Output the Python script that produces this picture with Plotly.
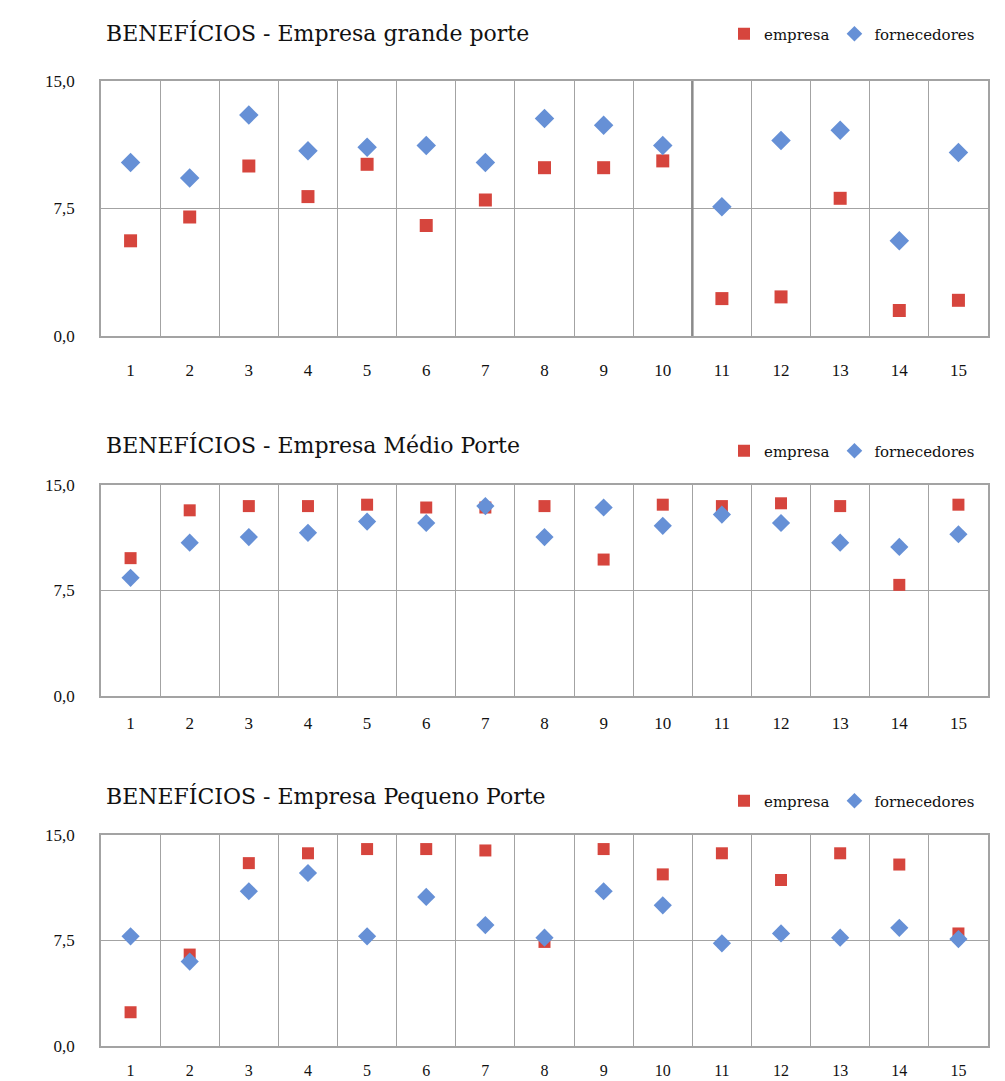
import plotly.graph_objects as go

categories = list(range(1, 15 + 1))
tick_labels = [str(c) for c in categories]

grande_empresa = [5.6, 7.0, 10.0, 8.2, 10.1, 6.5, 8.0, 9.9, 9.9, 10.3, 2.2, 2.3, 8.1, 1.5, 2.1]
grande_fornecedores = [10.2, 9.3, 13.0, 10.9, 11.1, 11.2, 10.2, 12.8, 12.4, 11.2, 7.6, 11.5, 12.1, 5.6, 10.8]

medio_empresa = [9.8, 13.2, 13.5, 13.5, 13.6, 13.4, 13.4, 13.5, 9.7, 13.6, 13.5, 13.7, 13.5, 7.9, 13.6]
medio_fornecedores = [8.4, 10.9, 11.3, 11.6, 12.4, 12.3, 13.5, 11.3, 13.4, 12.1, 12.9, 12.3, 10.9, 10.6, 11.5]

pequeno_empresa = [2.4, 6.5, 13.0, 13.7, 14.0, 14.0, 13.9, 7.4, 14.0, 12.2, 13.7, 11.8, 13.7, 12.9, 8.0]
pequeno_fornecedores = [7.8, 6.0, 11.0, 12.3, 7.8, 10.6, 8.6, 7.7, 11.0, 10.0, 7.3, 8.0, 7.7, 8.4, 7.6]

titles = ["BENEFÍCIOS - Empresa grande porte",
          "BENEFÍCIOS - Empresa Médio Porte",
          "BENEFÍCIOS - Empresa Pequeno Porte"]
y_ticks = [0, 7.5, 15]
y_tick_text = ["0,0", "7,5", "15,0"]

RED = "#d6453d"
BLUE = "#6690d6"
GRID = "#a3a3a3"
FONT = "Liberation Serif"
WIDE_FONT = "DejaVu Serif"
W, H = 1005, 1081

panels = [
    (grande_empresa, grande_fornecedores, (81, 336), 33, 34, 13, 18, 17),
    (medio_empresa, medio_fornecedores, (485, 696), 445, 451, 12, 11, 17),
    (pequeno_empresa, pequeno_fornecedores, (835, 1046), 796, 801, 12, 9, 16),
]

fig = go.Figure()
annotations = []
layout_axes = {}
for i, (emp, forn, (top, bot), title_y, leg_y, msize, xstand, xfs) in enumerate(panels):
    n = i + 1
    xa = "x" if n == 1 else f"x{n}"
    ya = "y" if n == 1 else f"y{n}"
    leg = "legend" if n == 1 else f"legend{n}"
    fig.add_trace(go.Scatter(x=categories, y=emp, mode="markers", name="empresa",
                             marker=dict(symbol="square", size=msize, color=RED),
                             xaxis=xa, yaxis=ya, legend=leg))
    fig.add_trace(go.Scatter(x=categories, y=forn, mode="markers", name="fornecedores",
                             marker=dict(symbol="diamond", size=msize + 2, color=BLUE),
                             xaxis=xa, yaxis=ya, legend=leg))
    xkey = "xaxis" if n == 1 else f"xaxis{n}"
    ykey = "yaxis" if n == 1 else f"yaxis{n}"
    layout_axes[xkey] = dict(
        domain=[101 / W, 988 / W], anchor=ya, range=[0.5, 15.5],
        tickvals=categories, ticktext=tick_labels, showgrid=False, zeroline=False,
        showline=True, linecolor=GRID, linewidth=1.5, mirror=True,
        ticks="", ticklabelstandoff=xstand, automargin=False,
        tickfont=dict(family=FONT, size=xfs, color="#111"),
        minor=dict(tickvals=[c + 0.5 for c in categories[:-1]], showgrid=True,
                   gridcolor=GRID, gridwidth=1.3, ticks=""),
        fixedrange=True,
    )
    layout_axes[ykey] = dict(
        domain=[(H - bot) / H, (H - top) / H], anchor=xa, range=[0, 15],
        tickvals=y_ticks, ticktext=y_tick_text, showgrid=True, gridcolor=GRID,
        gridwidth=1.3, zeroline=False, showline=True, linecolor=GRID, linewidth=1.5,
        mirror=True, ticks="", ticklabelstandoff=21, automargin=False,
        tickfont=dict(family=FONT, size=17, color="#111"), fixedrange=True,
    )
    annotations.append(dict(text=titles[i], xref="paper", yref="paper",
                            x=104 / W, y=(H - title_y) / H, xanchor="left", yanchor="middle",
                            showarrow=False, font=dict(family=WIDE_FONT, size=22, color="#111")))
    layout_axes[leg] = dict(orientation="h", x=980 / W, y=(H - leg_y) / H,
                            xanchor="right", yanchor="middle", bgcolor="rgba(0,0,0,0)",
                            font=dict(family=WIDE_FONT, size=15, color="#111"),
                            itemsizing="constant", itemwidth=30, tracegroupgap=0)

fig.update_layout(
    width=W, height=H, margin=dict(l=0, r=0, t=0, b=0, autoexpand=False),
    paper_bgcolor="white", plot_bgcolor="white",
    showlegend=True, annotations=annotations,
    shapes=[dict(type="line", xref="x", yref="y domain", x0=10.5, x1=10.5, y0=0, y1=1,
                 line=dict(color="#8a8a8a", width=2.5))],
    **layout_axes,
)

fig.write_html("out.html", config={"displayModeBar": False},
               post_script="document.body.style.margin='0';document.body.style.overflow='hidden';")
